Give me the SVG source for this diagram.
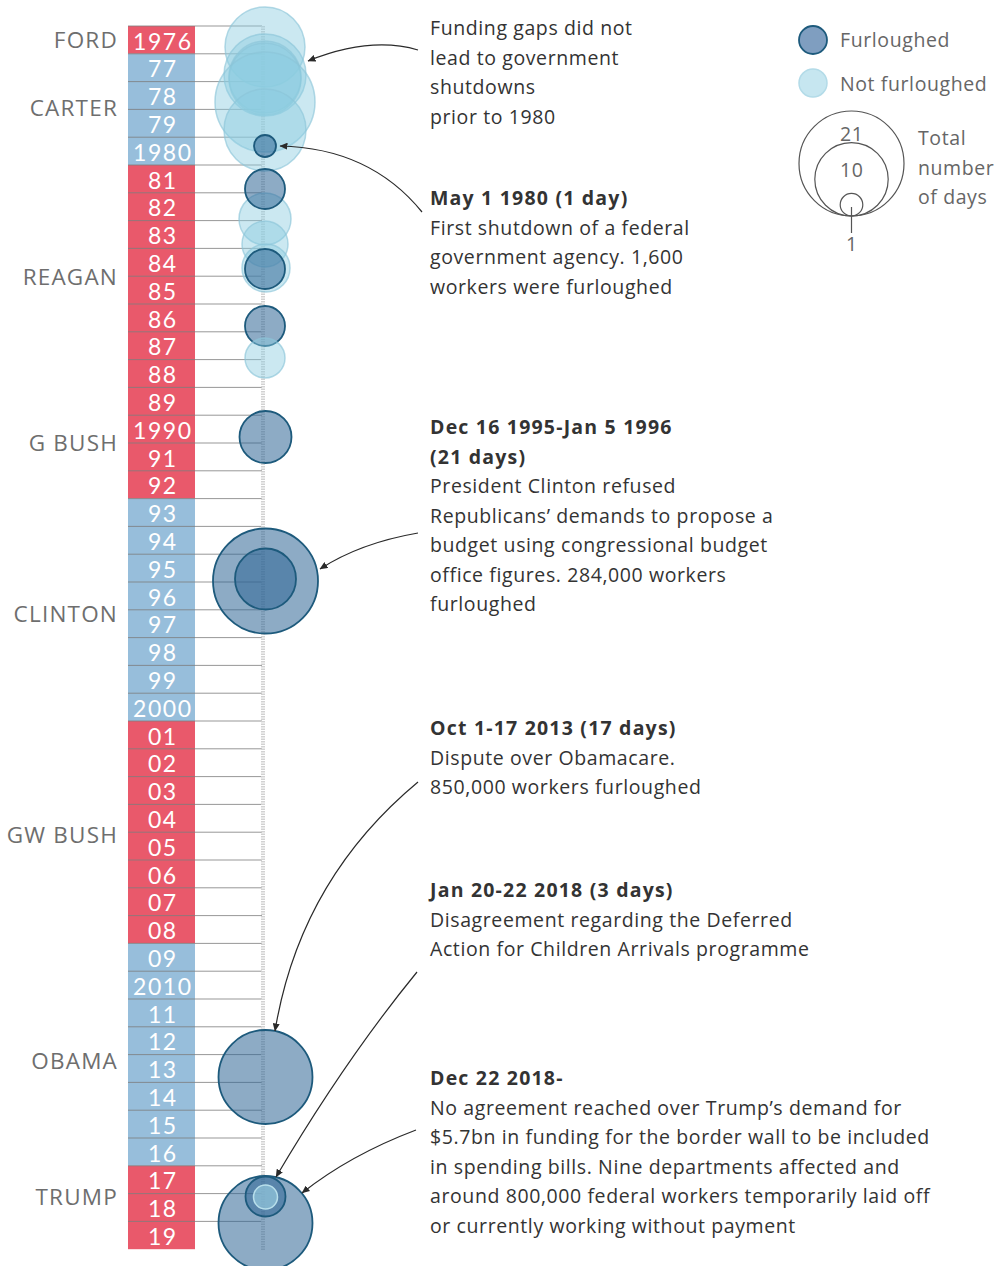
<svg xmlns="http://www.w3.org/2000/svg" width="994" height="1266" viewBox="0 0 994 1266">
<defs>
<marker id="ah" viewBox="0 0 8 7" refX="7.5" refY="3.5" markerWidth="8" markerHeight="7" markerUnits="userSpaceOnUse" orient="auto">
<path d="M0,0 L8,3.5 L0,7 z" fill="#2a2a2a"/>
</marker>
<style>
.r{fill:#e9596b}
.b{fill:#97bedb}
.yr{font-family:Lato,"Liberation Sans",sans-serif;font-size:23px;letter-spacing:1.5px;fill:#fff;text-anchor:middle}
.pres{font-family:"Open Sans","Liberation Sans",sans-serif;font-size:22.5px;letter-spacing:1.2px;fill:#6e6e6e;text-anchor:end}
.grid line{stroke:#7d7d7d;stroke-width:1;stroke-opacity:0.8}
.nf{fill:#8ccbe0;fill-opacity:0.45;stroke:#8cc5d8;stroke-opacity:0.65;stroke-width:1.5}
.f{fill:#2f6695;fill-opacity:0.55;stroke:#1d5a7c;stroke-width:1.8}
.ann{font-family:"Open Sans","Liberation Sans",sans-serif;font-size:19.5px;letter-spacing:0.6px;fill:#333}
.ann .h{font-weight:700;letter-spacing:1.2px}
.leg{font-family:"Open Sans","Liberation Sans",sans-serif;font-size:19.5px;letter-spacing:0.6px;fill:#666}
.conn path{fill:none;stroke:#2a2a2a;stroke-width:1.2;marker-end:url(#ah)}
</style>
</defs>
<rect width="994" height="1266" fill="#fff"/>

<g id="year-cells">
<rect class="r" x="128" y="26" width="67" height="27.8"/>
<rect class="b" x="128" y="53.8" width="67" height="111.2"/>
<rect class="r" x="128" y="165" width="67" height="333.6"/>
<rect class="b" x="128" y="498.6" width="67" height="222.4"/>
<rect class="r" x="128" y="721" width="67" height="222.4"/>
<rect class="b" x="128" y="943.4" width="67" height="222.4"/>
<rect class="r" x="128" y="1165.8" width="67" height="83.4"/>
</g>

<g id="grid" class="grid">
<line x1="128" y1="26" x2="262" y2="26"/>
<line x1="128" y1="53.8" x2="262" y2="53.8"/>
<line x1="128" y1="81.6" x2="262" y2="81.6"/>
<line x1="128" y1="109.4" x2="262" y2="109.4"/>
<line x1="128" y1="137.2" x2="262" y2="137.2"/>
<line x1="128" y1="165" x2="262" y2="165"/>
<line x1="128" y1="192.8" x2="262" y2="192.8"/>
<line x1="128" y1="220.6" x2="262" y2="220.6"/>
<line x1="128" y1="248.4" x2="262" y2="248.4"/>
<line x1="128" y1="276.2" x2="262" y2="276.2"/>
<line x1="128" y1="304" x2="262" y2="304"/>
<line x1="128" y1="331.8" x2="262" y2="331.8"/>
<line x1="128" y1="359.6" x2="262" y2="359.6"/>
<line x1="128" y1="387.4" x2="262" y2="387.4"/>
<line x1="128" y1="415.2" x2="262" y2="415.2"/>
<line x1="128" y1="443" x2="262" y2="443"/>
<line x1="128" y1="470.8" x2="262" y2="470.8"/>
<line x1="128" y1="498.6" x2="262" y2="498.6"/>
<line x1="128" y1="526.4" x2="262" y2="526.4"/>
<line x1="128" y1="554.2" x2="262" y2="554.2"/>
<line x1="128" y1="582" x2="262" y2="582"/>
<line x1="128" y1="609.8" x2="262" y2="609.8"/>
<line x1="128" y1="637.6" x2="262" y2="637.6"/>
<line x1="128" y1="665.4" x2="262" y2="665.4"/>
<line x1="128" y1="693.2" x2="262" y2="693.2"/>
<line x1="128" y1="721" x2="262" y2="721"/>
<line x1="128" y1="748.8" x2="262" y2="748.8"/>
<line x1="128" y1="776.6" x2="262" y2="776.6"/>
<line x1="128" y1="804.4" x2="262" y2="804.4"/>
<line x1="128" y1="832.2" x2="262" y2="832.2"/>
<line x1="128" y1="860" x2="262" y2="860"/>
<line x1="128" y1="887.8" x2="262" y2="887.8"/>
<line x1="128" y1="915.6" x2="262" y2="915.6"/>
<line x1="128" y1="943.4" x2="262" y2="943.4"/>
<line x1="128" y1="971.2" x2="262" y2="971.2"/>
<line x1="128" y1="999" x2="262" y2="999"/>
<line x1="128" y1="1026.8" x2="262" y2="1026.8"/>
<line x1="128" y1="1054.6" x2="262" y2="1054.6"/>
<line x1="128" y1="1082.4" x2="262" y2="1082.4"/>
<line x1="128" y1="1110.2" x2="262" y2="1110.2"/>
<line x1="128" y1="1138" x2="262" y2="1138"/>
<line x1="128" y1="1165.8" x2="262" y2="1165.8"/>
<line x1="128" y1="1193.6" x2="262" y2="1193.6"/>
<line x1="128" y1="1221.4" x2="262" y2="1221.4"/>
</g>
<line id="axis" x1="263" y1="26" x2="263" y2="1250" stroke="#d2d2d2" stroke-width="4" stroke-dasharray="1.5 1"/>

<g id="year-labels" class="yr">
<text x="162.8" y="49.5">1976</text>
<text x="162.8" y="77.3">77</text>
<text x="162.8" y="105.1">78</text>
<text x="162.8" y="132.9">79</text>
<text x="162.8" y="160.7">1980</text>
<text x="162.8" y="188.5">81</text>
<text x="162.8" y="216.3">82</text>
<text x="162.8" y="244.1">83</text>
<text x="162.8" y="271.9">84</text>
<text x="162.8" y="299.7">85</text>
<text x="162.8" y="327.5">86</text>
<text x="162.8" y="355.3">87</text>
<text x="162.8" y="383.1">88</text>
<text x="162.8" y="410.9">89</text>
<text x="162.8" y="438.7">1990</text>
<text x="162.8" y="466.5">91</text>
<text x="162.8" y="494.3">92</text>
<text x="162.8" y="522.1">93</text>
<text x="162.8" y="549.9">94</text>
<text x="162.8" y="577.7">95</text>
<text x="162.8" y="605.5">96</text>
<text x="162.8" y="633.3">97</text>
<text x="162.8" y="661.1">98</text>
<text x="162.8" y="688.9">99</text>
<text x="162.8" y="716.7">2000</text>
<text x="162.8" y="744.5">01</text>
<text x="162.8" y="772.3">02</text>
<text x="162.8" y="800.1">03</text>
<text x="162.8" y="827.9">04</text>
<text x="162.8" y="855.7">05</text>
<text x="162.8" y="883.5">06</text>
<text x="162.8" y="911.3">07</text>
<text x="162.8" y="939.1">08</text>
<text x="162.8" y="966.9">09</text>
<text x="162.8" y="994.7">2010</text>
<text x="162.8" y="1022.5">11</text>
<text x="162.8" y="1050.3">12</text>
<text x="162.8" y="1078.1">13</text>
<text x="162.8" y="1105.9">14</text>
<text x="162.8" y="1133.7">15</text>
<text x="162.8" y="1161.5">16</text>
<text x="162.8" y="1189.3">17</text>
<text x="162.8" y="1217.1">18</text>
<text x="162.8" y="1244.9">19</text>
</g>

<g id="presidents" class="pres">
<text x="118" y="48">FORD</text>
<text x="118" y="116">CARTER</text>
<text x="118" y="285">REAGAN</text>
<text x="118" y="451">G BUSH</text>
<text x="118" y="622">CLINTON</text>
<text x="118" y="843">GW BUSH</text>
<text x="118" y="1069">OBAMA</text>
<text x="118" y="1205">TRUMP</text>
</g>

<g id="bubbles">
<circle class="nf" cx="265" cy="47" r="40"/>
<circle class="nf" cx="265" cy="75" r="41"/>
<circle class="nf" cx="265" cy="77" r="36"/>
<circle class="nf" cx="265" cy="79" r="36"/>
<circle class="nf" cx="265" cy="102" r="50"/>
<circle class="nf" cx="265" cy="130" r="41"/>
<circle class="f" cx="265" cy="146" r="11"/>
<circle class="nf" cx="265" cy="219" r="26"/>
<circle class="nf" cx="265" cy="244" r="23"/>
<circle class="nf" cx="266" cy="268" r="24"/>
<circle class="f" cx="265" cy="189" r="20"/>
<circle class="f" cx="265" cy="269" r="20"/>
<circle class="f" cx="265" cy="326" r="20"/>
<circle class="nf" cx="265" cy="358" r="20"/>
<circle class="f" cx="265.5" cy="437" r="26"/>
<circle class="f" cx="265.5" cy="581" r="52.5"/>
<circle class="f" cx="265.5" cy="579" r="30.5"/>
<circle class="f" cx="265.5" cy="1077" r="47"/>
<circle class="f" cx="265.5" cy="1223" r="47"/>
<circle class="f" cx="265.5" cy="1196.5" r="20"/>
<circle class="nf" cx="265.5" cy="1197" r="12" style="fill:#9fd3e6;fill-opacity:0.6;stroke:#b8dfeb;stroke-opacity:1"/>
</g>

<g id="connectors" class="conn">
<path d="M418,50 Q370,36 308,61"/>
<path d="M422,212 Q370,148 280,146"/>
<path d="M418,533 Q360,543 320,569"/>
<path d="M418,782 Q300,880 275,1031"/>
<path d="M417,972 Q345,1060 276,1177"/>
<path d="M416,1130 Q350,1155 302,1193"/>
</g>

<g id="note-prior-1980" class="ann">
<text x="430" y="35">Funding gaps did not</text>
<text x="430" y="64.5">lead to government</text>
<text x="430" y="94">shutdowns</text>
<text x="430" y="123.5">prior to 1980</text>
</g>
<g id="note-1980" class="ann">
<text class="h" x="430" y="205">May 1 1980 (1 day)</text>
<text x="430" y="234.5">First shutdown of a federal</text>
<text x="430" y="264">government agency. 1,600</text>
<text x="430" y="293.5">workers were furloughed</text>
</g>
<g id="note-1995" class="ann">
<text class="h" x="430" y="434">Dec 16 1995-Jan 5 1996</text>
<text class="h" x="430" y="463.5">(21 days)</text>
<text x="430" y="493">President Clinton refused</text>
<text x="430" y="522.5">Republicans’ demands to propose a</text>
<text x="430" y="552">budget using congressional budget</text>
<text x="430" y="581.5">office figures. 284,000 workers</text>
<text x="430" y="611">furloughed</text>
</g>
<g id="note-2013" class="ann">
<text class="h" x="430" y="735">Oct 1-17 2013 (17 days)</text>
<text x="430" y="764.5">Dispute over Obamacare.</text>
<text x="430" y="794">850,000 workers furloughed</text>
</g>
<g id="note-jan2018" class="ann">
<text class="h" x="430" y="897">Jan 20-22 2018 (3 days)</text>
<text x="430" y="926.5">Disagreement regarding the Deferred</text>
<text x="430" y="956">Action for Children Arrivals programme</text>
</g>
<g id="note-dec2018" class="ann">
<text class="h" x="430" y="1085">Dec 22 2018-</text>
<text x="430" y="1114.5">No agreement reached over Trump’s demand for</text>
<text x="430" y="1144">$5.7bn in funding for the border wall to be included</text>
<text x="430" y="1173.5">in spending bills. Nine departments affected and</text>
<text x="430" y="1203">around 800,000 federal workers temporarily laid off</text>
<text x="430" y="1232.5">or currently working without payment</text>
</g>

<g id="legend" class="leg">
<circle cx="813" cy="40" r="14" fill="#7f9ec0" stroke="#1d5a7c" stroke-width="1.8"/>
<text x="840" y="47">Furloughed</text>
<circle cx="813" cy="83" r="14" fill="#c6e6f0" stroke="#b3dbe8" stroke-width="1.5"/>
<text x="840" y="91">Not furloughed</text>
<g fill="none" stroke="#555" stroke-width="1.2">
<circle cx="851.5" cy="163.5" r="52.5"/>
<circle cx="851.5" cy="179.3" r="36.7"/>
<circle cx="851.5" cy="204.7" r="11.3"/>
<line x1="851.5" y1="207" x2="851.5" y2="233"/>
</g>
<text x="851.8" y="141" text-anchor="middle">21</text>
<text x="851.8" y="177" text-anchor="middle">10</text>
<text x="851.8" y="251" text-anchor="middle">1</text>
<text x="918" y="145">Total</text>
<text x="918" y="174.5">number</text>
<text x="918" y="204">of days</text>
</g>
</svg>
